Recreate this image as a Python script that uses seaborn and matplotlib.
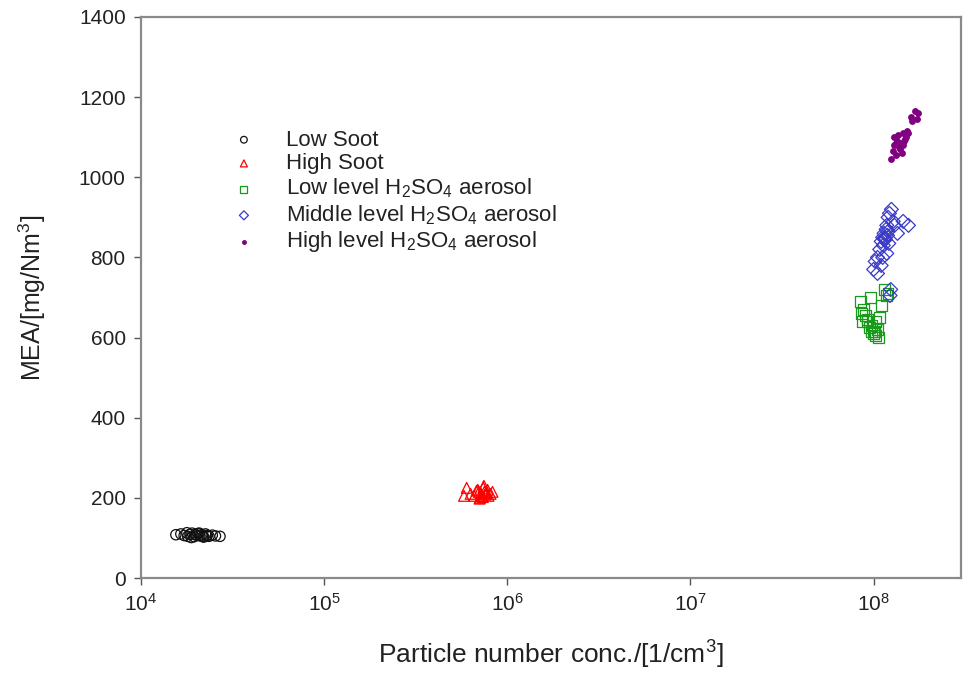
import numpy as np
import pandas as pd
import matplotlib
matplotlib.use("Agg")
import matplotlib.pyplot as plt
import seaborn as sns
from matplotlib.ticker import LogLocator, LogFormatterSciNotation, NullLocator

# ---- data ----
low_soot_x = [1.55e4, 1.65e4, 1.72e4, 1.80e4, 1.85e4, 1.90e4, 1.95e4, 2.00e4, 2.05e4, 2.10e4, 2.15e4, 2.20e4,
              2.25e4, 2.30e4, 2.35e4, 2.45e4, 2.55e4, 2.70e4, 1.78e4, 1.88e4, 1.98e4, 2.08e4, 2.18e4, 2.28e4]
low_soot_y = [108, 110, 106, 104, 109, 112, 103, 107, 111, 105, 108, 102,
              110, 106, 104, 107, 105, 104, 113, 101, 109, 112, 104, 106]

high_soot_x = [5.8e5, 6.0e5, 6.3e5, 6.6e5, 6.9e5, 7.0e5, 7.1e5, 7.2e5, 7.3e5, 7.4e5, 7.5e5, 7.6e5, 7.7e5,
               7.8e5, 7.9e5, 8.1e5, 8.3e5, 7.05e5, 7.25e5, 7.45e5, 7.65e5, 6.8e5, 7.35e5]
high_soot_y = [205, 225, 210, 205, 220, 215, 200, 210, 205, 225, 215, 208, 212,
               220, 205, 210, 215, 198, 204, 230, 212, 218, 202]

low_h2so4_x = [0.85e8, 0.88e8, 0.90e8, 0.92e8, 0.95e8, 0.97e8, 1.00e8, 1.02e8, 1.05e8, 1.08e8, 1.10e8,
               0.86e8, 0.93e8, 0.98e8, 1.03e8, 0.87e8, 0.96e8, 1.01e8, 1.06e8, 1.15e8, 1.20e8, 1.18e8]
low_h2so4_y = [690, 670, 655, 640, 625, 615, 610, 605, 620, 650, 680,
               660, 645, 630, 640, 640, 700, 615, 600, 720, 710, 705]

mid_h2so4_x = [1.00e8, 1.02e8, 1.05e8, 1.08e8, 1.10e8, 1.12e8, 1.14e8, 1.15e8, 1.17e8, 1.18e8, 1.20e8,
               1.22e8, 1.25e8, 1.28e8, 1.30e8, 1.35e8, 1.45e8, 1.55e8, 1.05e8, 1.10e8, 1.13e8, 1.16e8,
               1.19e8, 1.21e8, 1.24e8, 1.12e8, 1.18e8, 1.23e8, 1.15e8, 1.20e8]
mid_h2so4_y = [770, 790, 800, 820, 840, 850, 860, 845, 870, 880, 900,
               910, 920, 890, 880, 860, 890, 880, 760, 780, 830, 845,
               855, 835, 720, 800, 810, 705, 850, 865]

high_h2so4_x = [1.24e8, 1.27e8, 1.30e8, 1.32e8, 1.35e8, 1.37e8, 1.29e8, 1.40e8, 1.42e8, 1.44e8, 1.45e8,
                1.36e8, 1.50e8, 1.52e8, 1.48e8, 1.33e8, 1.40e8, 1.46e8, 1.55e8, 1.60e8, 1.68e8, 1.72e8,
                1.75e8, 1.62e8]
high_h2so4_y = [1045, 1065, 1080, 1055, 1090, 1075, 1100, 1085, 1060, 1110, 1080,
                1105, 1100, 1115, 1095, 1085, 1070, 1090, 1110, 1150, 1165, 1145,
                1160, 1140]

labels = ["Low Soot", "High Soot", "Low level H$_2$SO$_4$ aerosol",
          "Middle level H$_2$SO$_4$ aerosol", "High level H$_2$SO$_4$ aerosol"]
yticks = [0, 200, 400, 600, 800, 1000, 1200, 1400]

# ---- style ----
sns.set_style("white")
plt.rcParams['font.family'] = ['Liberation Sans', 'DejaVu Sans']
plt.rcParams['mathtext.default'] = 'regular'

fig = plt.figure(figsize=(9.68, 6.75), dpi=100)
ax = fig.add_axes([141/968, 97/675, 820/968, 561/675])

series = [
    (low_soot_x, low_soot_y, 'o', '#111111', 'none', 55),
    (high_soot_x, high_soot_y, '^', 'red', 'none', 60),
    (low_h2so4_x, low_h2so4_y, 's', '#1a9a1a', 'none', 60),
    (mid_h2so4_x, mid_h2so4_y, 'D', '#3a3ac8', 'none', 50),
    (high_h2so4_x, high_h2so4_y, 'o', '#800080', '#800080', 16),
]
for (xs, ys, m, ec, fc, s), lab in zip(series, labels):
    df = pd.DataFrame({"x": xs, "y": ys})
    sns.scatterplot(data=df, x="x", y="y", marker=m, s=s, facecolor=fc,
                    edgecolor=ec, linewidth=0.9, ax=ax, label=lab, legend=False)

ax.set_xscale('log')
ax.set_xlim(1e4, 3.0e8)
ax.set_ylim(0, 1400)
ax.xaxis.set_major_locator(LogLocator(base=10, numticks=10))
ax.xaxis.set_major_formatter(LogFormatterSciNotation())
ax.xaxis.set_minor_locator(NullLocator())
ax.set_yticks(yticks)

for sp in ax.spines.values():
    sp.set_visible(True)
    sp.set_color('#8a8a8a')
    sp.set_linewidth(1.6)

ax.tick_params(axis='both', which='major', direction='out', length=5, width=1,
               color='#555555', labelsize=15, labelcolor='#222222', pad=6,
               bottom=True, left=True, top=False, right=False)

ax.set_xlabel("Particle number conc./[1/cm$^3$]", fontsize=19, color='#222222', labelpad=17)
ax.set_ylabel("MEA/[mg/Nm$^3$]", fontsize=18, color='#222222', labelpad=22)

handles, labs = ax.get_legend_handles_labels()
leg = ax.legend(handles, labs, loc='upper left', bbox_to_anchor=(0.074, 0.835),
                frameon=False, fontsize=16, labelspacing=0.12, handletextpad=0.9,
                markerscale=0.65, labelcolor='#222222')

fig.savefig("out.png", dpi=100, facecolor='white')
